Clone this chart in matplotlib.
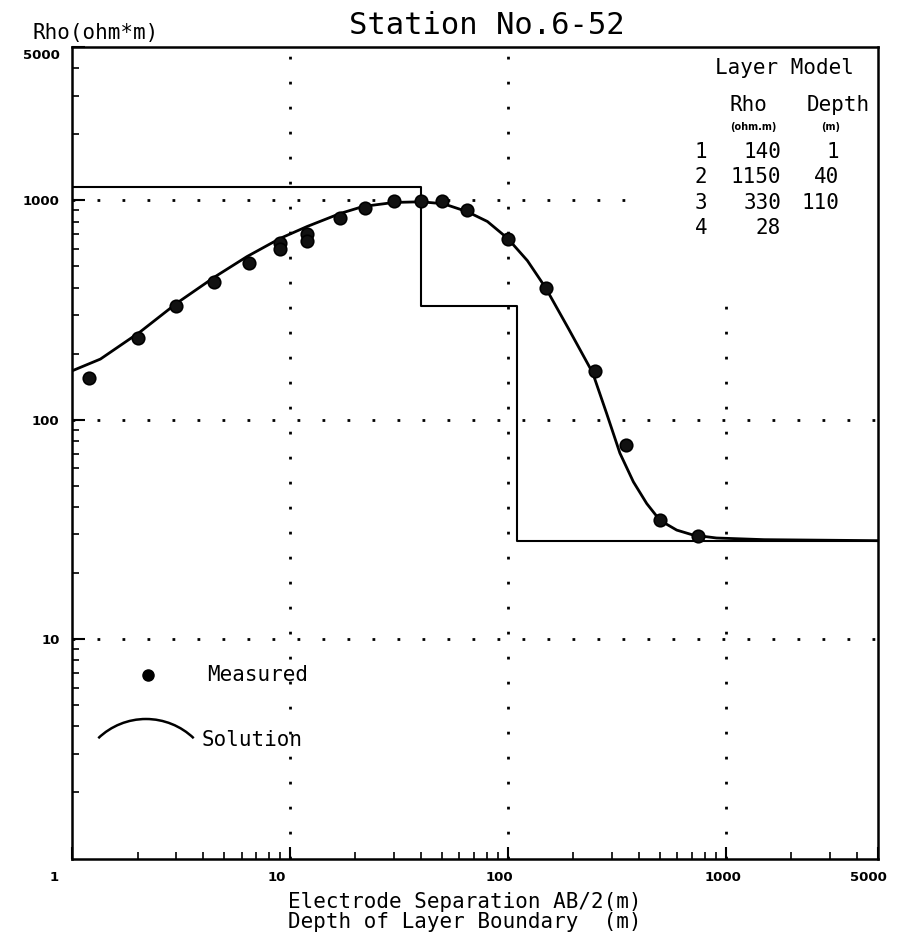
import numpy as np
import matplotlib
matplotlib.use("Agg")
import matplotlib.pyplot as plt
from matplotlib.patches import Arc
from matplotlib.ticker import FixedLocator, LogLocator, NullFormatter
import matplotlib.transforms as mtransforms

# measured apparent resistivity
ab2 = [1.2, 2.0, 3.0, 4.5, 6.5, 9.0, 9.0, 12, 12, 17, 22, 30, 40, 50, 65,
       100, 150, 250, 350, 500, 750]
rho_meas = [155, 236, 331, 426, 520, 637, 598, 700, 650, 835, 918, 988, 988,
            990, 899, 670, 400, 167, 76.5, 34.8, 29.4]

# solution curve
sol_x = [1, 1.35, 2.05, 3.04, 4.54, 6.35, 9.0, 12, 17, 21.7, 30, 40, 50.6,
         65, 80.6, 100, 123, 149, 190, 245, 284, 327, 377, 434, 499, 596,
         710, 908, 1500, 5000]
sol_y = [167, 189, 251, 341, 449, 554, 670, 760, 871, 938, 978, 985, 965,
         889, 801, 670, 531, 400, 260, 164, 107, 70.4, 52.1, 41.5, 34.8,
         31.4, 29.8, 28.9, 28.4, 28.1]

# layer model
layer_no = [1, 2, 3, 4]
layer_rho = [140, 1150, 330, 28]
layer_depth = [1, 40, 110]

x_ticks = [1, 10, 100, 1000, 5000]
y_ticks = [10, 100, 1000, 5000]

MONO = "DejaVu Sans Mono"
W, H = 917, 942


def fx(px):
    return px / W


def fy(py):
    return 1 - py / H


fig = plt.figure(figsize=(W / 100, H / 100), dpi=100)
ax = fig.add_axes([fx(72), fy(858.5), (878 - 72) / W, (858.5 - 47) / H])
ax.set_xscale("log")
ax.set_yscale("log")
ax.set_xlim(1, 5000)
ax.set_ylim(1, 5000)

# dotted grid
dots = (0, (1, 8))
ax.axvline(10, color="k", lw=2, linestyle=dots, zorder=1)
ax.axvline(100, color="k", lw=2, linestyle=dots, zorder=1)
ax.axvline(1000, ymax=0.695, color="k", lw=2, linestyle=dots, zorder=1)
ax.axhline(10, color="k", lw=2, linestyle=dots, zorder=1)
ax.axhline(100, color="k", lw=2, linestyle=dots, zorder=1)
ax.axhline(1000, xmax=0.711, color="k", lw=2, linestyle=dots, zorder=1)

# layer model as steps (layer 1 sits left of the axis)
step_x = layer_depth + [5000]
step_y = layer_rho[1:] + [layer_rho[-1]]
ax.step(step_x, step_y, where="post", color="k", lw=1.5, zorder=2)

ax.plot(sol_x, sol_y, color="k", lw=2.0, zorder=3)
ax.plot(ab2, rho_meas, "o", ms=9, mfc="#111111", mec="k", mew=1.2, zorder=4)

# ticks
ax.xaxis.set_major_locator(FixedLocator(x_ticks))
ax.yaxis.set_major_locator(FixedLocator(y_ticks))
ax.xaxis.set_major_formatter(plt.FixedFormatter([str(t) for t in x_ticks]))
ax.yaxis.set_major_formatter(plt.FixedFormatter([str(t) for t in y_ticks]))
ax.xaxis.set_minor_locator(LogLocator(base=10, subs=range(2, 10), numticks=20))
ax.yaxis.set_minor_locator(LogLocator(base=10, subs=range(2, 10), numticks=20))
ax.xaxis.set_minor_formatter(NullFormatter())
ax.yaxis.set_minor_formatter(NullFormatter())
ax.tick_params(which="major", direction="in", length=9, width=1.5, pad=9,
               labelsize=9.5)
ax.tick_params(which="minor", direction="in", length=5, width=1.2)
for lab in ax.get_xticklabels() + ax.get_yticklabels():
    lab.set_fontweight("bold")
    lab.set_family("DejaVu Sans")
# the plotter put the x labels slightly left of their ticks
for lab, dx in zip(ax.get_xticklabels(), [-18, -13, -8, -3, -10]):
    lab.set_transform(lab.get_transform() +
                      mtransforms.ScaledTranslation(dx / 100, 0, fig.dpi_scale_trans))
top_lab = ax.get_yticklabels()[-1]
top_lab.set_transform(top_lab.get_transform() +
                      mtransforms.ScaledTranslation(0, -7 / 100, fig.dpi_scale_trans))

for sp in ax.spines.values():
    sp.set_linewidth(1.8)

# legend drawn by hand
ax.plot([0.094], [0.226], "o", ms=8, color="k", transform=ax.transAxes,
        clip_on=False)
ax.text(0.1675, 0.226, "Measured", transform=ax.transAxes, family=MONO,
        fontsize=15, va="center", ha="left")
ax.add_patch(Arc((0.0918, 0.0869), 0.171, 0.170, theta1=46, theta2=134,
                 transform=ax.transAxes, color="k", lw=1.8))
ax.text(0.161, 0.146, "Solution", transform=ax.transAxes, family=MONO,
        fontsize=15, va="center", ha="left")

# titles and labels
fig.text(fx(487), fy(26), "Station No.6-52", family=MONO, fontsize=22,
         ha="center", va="center")
fig.text(fx(32), fy(33), "Rho(ohm*m)", family=MONO, fontsize=15,
         ha="left", va="center")
fig.text(fx(288), fy(912),
         "Electrode Separation AB/2(m)\nDepth of Layer Boundary  (m)",
         family=MONO, fontsize=15, ha="left", va="center", linespacing=0.95)

# layer model table
fig.text(fx(784), fy(68), "Layer Model", family=MONO, fontsize=15,
         ha="center", va="center")
fig.text(fx(748), fy(105), "Rho", family=MONO, fontsize=15,
         ha="center", va="center")
fig.text(fx(838), fy(105), "Depth", family=MONO, fontsize=15,
         ha="center", va="center")
fig.text(fx(753), fy(127), "(ohm.m)", family="DejaVu Sans", fontsize=7,
         fontweight="bold", ha="center", va="center")
fig.text(fx(831), fy(127), "(m)", family="DejaVu Sans", fontsize=7,
         fontweight="bold", ha="center", va="center")
for i, n in enumerate(layer_no):
    yy = fy(152 + 25.3 * i)
    fig.text(fx(701), yy, str(n), family=MONO, fontsize=15,
             ha="center", va="center")
    fig.text(fx(781), yy, str(layer_rho[i]), family=MONO, fontsize=15,
             ha="right", va="center")
    if i < len(layer_depth):
        fig.text(fx(839), yy, str(layer_depth[i]), family=MONO, fontsize=15,
                 ha="right", va="center")

fig.savefig("out.png", dpi=100)
